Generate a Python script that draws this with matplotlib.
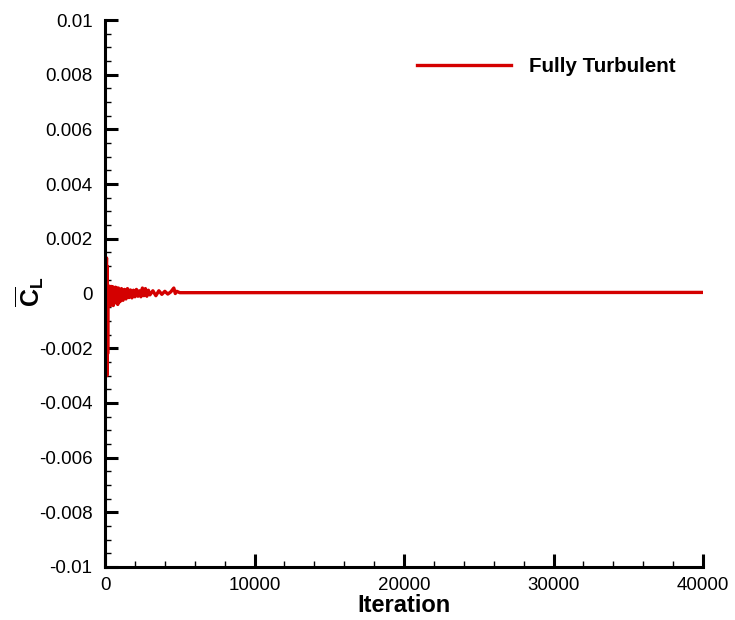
import matplotlib
matplotlib.use("Agg")
import matplotlib.pyplot as plt
from matplotlib.ticker import MultipleLocator, FuncFormatter

plt.rcParams['font.family'] = ['Liberation Sans', 'DejaVu Sans']
plt.rcParams['mathtext.fontset'] = 'custom'
plt.rcParams['mathtext.rm'] = 'Liberation Sans'
plt.rcParams['mathtext.it'] = 'Liberation Sans'
plt.rcParams['mathtext.bf'] = 'Liberation Sans:bold'

# ---------------------------------------------------------
# Data (CL in units of 1e-4)
# ---------------------------------------------------------
iteration = [0, 60, 100, 125, 150, 175, 200, 250, 300, 350, 400, 450, 500,
             550, 600, 650, 700, 750, 800, 850, 900, 1000, 1100, 1200, 1300,
             1400, 1500, 1600, 1700, 1800, 1900, 2000, 2100, 2200, 2300, 2400,
             2500, 2600, 2700, 2800, 2900, 3000, 3200, 3400, 3600, 3800, 4000,
             4200, 4400, 4600, 4700, 4800, 5000, 40000]
cl_e4 = [0, 4, 13, -30, 10, -22, 3, -4, 2.5, -4.5, 2.6, -4, 2.5,
         -4.4, 2.2, -3.5, 2.3, -3, 2, -4, 2, -3, 1.8, -2.5, 1.5,
         -2, 1.8, -1.5, 1.3, -1.6, 1.2, -1.2, 1.5, -1, 1, -1.2,
         2, -0.8, 1.8, -1, 1.2, -0.5, 1, -0.8, 1, -0.3, 0.8,
         -0.2, 0.6, 2, 0, 0.8, 0.3, 0.4]
cl = [v * 1e-4 for v in cl_e4]

series_label = "Fully Turbulent"
x_ticks = [0, 10000, 20000, 30000, 40000]
y_ticks = [-0.01, -0.008, -0.006, -0.004, -0.002, 0, 0.002, 0.004, 0.006, 0.008, 0.01]

# ---------------------------------------------------------
# Plot
# ---------------------------------------------------------
fig = plt.figure(figsize=(7.35, 6.2), dpi=100)
ax = fig.add_axes([0.1429, 0.0855, 0.8136, 0.8822])

ax.plot(iteration, cl, color="#d40000", linewidth=2.4, label=series_label)

ax.set_xlim(0, 40000)
ax.set_ylim(-0.01, 0.01)
ax.set_xticks(x_ticks)
ax.set_yticks(y_ticks)
ax.xaxis.set_minor_locator(MultipleLocator(2000))
ax.yaxis.set_minor_locator(MultipleLocator(0.0005))
ax.yaxis.set_major_formatter(FuncFormatter(lambda v, p: "0" if abs(v) < 1e-12 else f"{v:g}"))

for side in ["top", "right"]:
    ax.spines[side].set_visible(False)
for side in ["left", "bottom"]:
    ax.spines[side].set_linewidth(2.2)

ax.tick_params(which="major", direction="in", length=9.5, width=2.2, labelsize=13.5)
ax.tick_params(axis="y", which="major", pad=9)
ax.tick_params(axis="x", which="major", pad=7)
ax.tick_params(which="minor", direction="in", length=4.5, width=1.0)

ax.set_xlabel("Iteration", fontsize=17, fontweight="bold", labelpad=0)
fig.text(30 / 735, 1 - 292 / 620, r"$\overline{\mathbf{C}}_{\mathbf{L}}$",
         fontsize=18, rotation=90, ha="center", va="center")

ax.legend(loc="center right", bbox_to_anchor=(0.955, 0.9155), frameon=False,
          borderpad=0, borderaxespad=0, handlelength=4.6, handletextpad=0.88,
          prop={"size": 14.8, "weight": "bold"})

fig.savefig("out.png", dpi=100)
